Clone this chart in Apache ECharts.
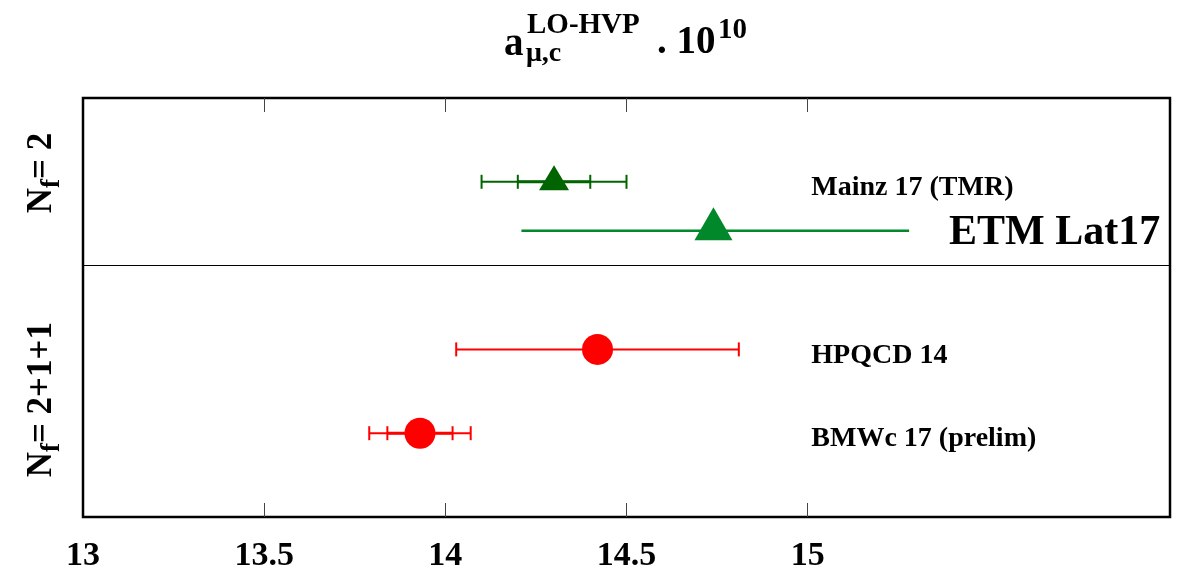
<!DOCTYPE html>
<html><head><meta charset="utf-8">
<script src="https://cdn.jsdelivr.net/npm/echarts@6/dist/echarts.min.js"></script>
<style>html,body{margin:0;padding:0;background:#fff}#c{width:1185px;height:577px}</style>
</head><body><div id="c"></div>
<script>
// ---- data ----
const names = ['Mainz 17 (TMR)', 'ETM Lat17', 'HPQCD 14', 'BMWc 17 (prelim)'];
const centers = [14.30, 14.74, 14.42, 13.93];
const lows = [14.10, 14.21, 14.03, 13.79];
const highs = [14.50, 15.28, 14.81, 14.07];
const innerLows = [14.20, null, null, 13.84];
const innerHighs = [14.40, null, null, 14.02];
const rows = [2, 3.17, 6, 8];
const labelX = [15.01, 15.39, 15.01, 15.01];
const tickLabels = [13, 13.5, 14, 14.5, 15];
const tickMarks = [13.5, 14, 14.5, 15];
const separatorRow = [4];
const groupNames = ['2', '2+1+1'];
const groupRows = [1.79, 7.2];

// ---- styles ----
const colors = ['#006400', '#00882b', '#ff0000', '#ff0000'];
const symbols = ['triangle', 'triangle', 'circle', 'circle'];
const symbolSizes = [[30, 25], [38, 33], 31, 31];
const symbolOffsets = [[0, -4], [0, -7], [0, 0], [0, 0]];
const hasCaps = [true, false, true, true];
const lineWidths = [2, 2.5, 2, 2];
const labelSizes = [28, 42, 28, 28];
const labelOffsets = [[0, 6], [0, 2], [0, 6], [0, 6]];
const SERIF = "'Liberation Serif', 'Times New Roman', serif";

const chart = echarts.init(document.getElementById('c'), null, {renderer: 'canvas'});

const errData = rows.map((r, i) => [centers[i], lows[i], highs[i], r]);
const pointData = rows.map((r, i) => ({
  value: [centers[i], r],
  symbol: symbols[i],
  symbolSize: symbolSizes[i],
  symbolOffset: symbolOffsets[i],
  itemStyle: {color: colors[i], opacity: 1}
}));
const labelData = rows.map((r, i) => ({
  value: [labelX[i], r],
  name: names[i],
  label: {fontSize: labelSizes[i], offset: labelOffsets[i]}
}));

const CAP = 7;
function renderErr(params, api) {
  const i = params.dataIndex;
  const y = api.value(3);
  const c = colors[i];
  const lo = api.coord([api.value(1), y]);
  const hi = api.coord([api.value(2), y]);
  const ch = [{
    type: 'line', shape: {x1: lo[0], y1: lo[1], x2: hi[0], y2: hi[1]},
    style: {stroke: c, lineWidth: lineWidths[i]}
  }];
  function cap(p) {
    ch.push({type: 'line', shape: {x1: p[0], y1: p[1] - CAP, x2: p[0], y2: p[1] + CAP},
      style: {stroke: c, lineWidth: 2}});
  }
  if (hasCaps[i]) { cap(lo); cap(hi); }
  if (innerLows[i] != null) {
    const il = api.coord([innerLows[i], y]);
    const ih = api.coord([innerHighs[i], y]);
    ch.push({type: 'line', shape: {x1: il[0], y1: il[1], x2: ih[0], y2: ih[1]},
      style: {stroke: c, lineWidth: 3}});
    cap(il); cap(ih);
  }
  return {type: 'group', children: ch};
}

function xAxisDef(pos, showLabel) {
  return {
    type: 'value', min: 13, max: 16, interval: 0.5, position: pos,
    axisLine: {show: false, onZero: false},
    splitLine: {show: false},
    axisTick: {show: true, inside: true, length: 14, customValues: tickMarks,
      lineStyle: {color: '#444', width: 1}},
    axisLabel: showLabel ? {show: true, customValues: tickLabels, color: '#000', fontSize: 34,
      fontWeight: 'bold', fontFamily: SERIF, margin: 22} : {show: false}
  };
}

chart.setOption({
  animation: false,
  backgroundColor: '#fff',
  grid: {left: 83, right: 15, top: 98, bottom: 60, show: true,
    borderColor: '#000', borderWidth: 2.5, backgroundColor: 'transparent'},
  xAxis: [xAxisDef('bottom', true), xAxisDef('top', false)],
  yAxis: {type: 'value', min: 0, max: 10, inverse: true, show: false,
    axisLine: {onZero: false}},
  series: [
    {
      type: 'custom', renderItem: renderErr, data: errData,
      encode: {x: [0, 1, 2], y: 3}, z: 2, silent: true,
      markLine: {
        silent: true, symbol: 'none', label: {show: false},
        lineStyle: {color: '#000', width: 1.2, type: 'solid', opacity: 1},
        data: separatorRow.map(v => ({yAxis: v}))
      }
    },
    {type: 'scatter', data: pointData, z: 3, silent: true, itemStyle: {opacity: 1}},
    {
      type: 'scatter', data: labelData, symbolSize: 0, z: 4, silent: true,
      itemStyle: {opacity: 1},
      label: {show: true, position: 'right', distance: 0, formatter: p => p.name,
        color: '#000', opacity: 1, fontWeight: 'bold', fontFamily: SERIF}
    }
  ]
});

// title & group labels
const tBold = {fontWeight: 'bold', fontFamily: SERIF, fill: '#000', verticalAlign: 'middle'};
const graphics = [
  {type: 'text', x: 504, y: 45, style: Object.assign({text: 'a', fontSize: 39}, tBold)},
  {type: 'text', x: 527, y: 26, style: Object.assign({text: 'LO-HVP', fontSize: 29}, tBold)},
  {type: 'text', x: 526, y: 54, style: Object.assign({text: 'μ,c', fontSize: 28}, tBold)},
  {type: 'text', x: 657, y: 43, style: Object.assign({text: '. 10', fontSize: 39}, tBold)},
  {type: 'text', x: 718, y: 31, style: Object.assign({text: '10', fontSize: 29}, tBold)}
];
groupNames.forEach((g, k) => {
  const py = chart.convertToPixel({yAxisIndex: 0}, groupRows[k]);
  graphics.push({
    type: 'text', x: 42, y: py, rotation: Math.PI / 2,
    style: {
      text: '{n|N}{s|f}{n|= ' + g + '}',
      align: 'center', verticalAlign: 'middle',
      rich: {
        n: {fontSize: 35, fontWeight: 'bold', fontFamily: SERIF, fill: '#000', lineHeight: 48, verticalAlign: 'middle'},
        s: {fontSize: 27, fontWeight: 'bold', fontFamily: SERIF, fill: '#000', lineHeight: 48, verticalAlign: 'bottom'}
      }
    }
  });
});
chart.setOption({graphic: graphics});
</script>
</body></html>
